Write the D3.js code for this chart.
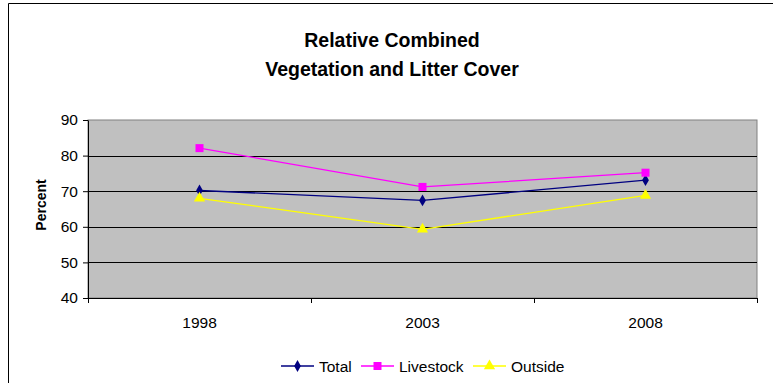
<!DOCTYPE html>
<html>
<head>
<meta charset="utf-8">
<script src="https://cdn.jsdelivr.net/npm/d3@7"></script>
<style>
  body { margin: 0; background: #fff; }
  text { font-family: Arial, "Liberation Sans", sans-serif; }
</style>
</head>
<body>
<div id="chart"></div>
<script>
(function(){
// data
var years = ["1998", "2003", "2008"];
var total = [70.2, 67.4, 73.1];
var livestock = [82.1, 71.2, 75.2];
var outside = [68.0, 59.3, 68.8];
var yTicks = [40, 50, 60, 70, 80, 90];

var series = [
  {name: "Total", values: total, color: "#000080", symbol: d3.symbolDiamond, size: 40},
  {name: "Livestock", values: livestock, color: "#FF00FF", symbol: d3.symbolSquare, size: 64},
  {name: "Outside", values: outside, color: "#FFFF00", symbol: d3.symbolTriangle, size: 55}
];

var W = 773, H = 383;
var margin = {top: 120, right: 16, bottom: 85, left: 88},
    width = W - margin.left - margin.right,
    height = H - margin.top - margin.bottom;

var svg = d3.select("#chart").append("svg")
    .attr("width", W)
    .attr("height", H);

// outer frame
svg.append("path")
    .attr("d", "M8.5," + H + "V3.5H" + W)
    .attr("fill", "none")
    .attr("stroke", "#000")
    .attr("stroke-width", 1);

// title
svg.append("text")
    .attr("x", 392).attr("y", 47)
    .attr("text-anchor", "middle")
    .style("font-size", "19.5px").style("font-weight", "bold")
    .text("Relative Combined");
svg.append("text")
    .attr("x", 392).attr("y", 76)
    .attr("text-anchor", "middle")
    .style("font-size", "19.5px").style("font-weight", "bold")
    .text("Vegetation and Litter Cover");

var g = svg.append("g")
    .attr("transform", "translate(" + margin.left + "," + margin.top + ")");

var x = d3.scaleBand().domain(years).range([0, width]);
var y = d3.scaleLinear().domain([40, 90]).range([height, 0]);

// plot area
g.append("rect")
    .attr("width", width).attr("height", height)
    .attr("fill", "#C0C0C0")
    .attr("stroke", "#808080");

// gridlines
g.selectAll(".grid")
    .data(yTicks.slice(1, -1))
  .enter().append("line")
    .attr("x1", 0).attr("x2", width)
    .attr("y1", function(d) { return Math.round(y(d)) + 0.5; })
    .attr("y2", function(d) { return Math.round(y(d)) + 0.5; })
    .attr("stroke", "#000");

// y axis
var yAxis = g.append("g")
    .call(d3.axisLeft(y).tickValues(yTicks).tickSize(5).tickSizeOuter(0));
yAxis.select(".domain").attr("stroke", "#000");
yAxis.selectAll("text").style("font-size", "15.5px").attr("fill", "#000").attr("x", -10);

// x axis
var xAxis = g.append("g")
    .attr("transform", "translate(0," + height + ")")
    .call(d3.axisBottom(x).tickSize(0).tickSizeOuter(0));
xAxis.select(".domain").attr("stroke", "#000");
xAxis.selectAll("text").style("font-size", "15.5px").attr("fill", "#000").attr("y", 19).attr("dy", "0.71em");
// category boundary ticks
g.selectAll(".xt")
    .data(years.concat(["end"]))
  .enter().append("line")
    .attr("x1", function(d, i) { return Math.round(i * x.step()) + 0.5; })
    .attr("x2", function(d, i) { return Math.round(i * x.step()) + 0.5; })
    .attr("y1", height).attr("y2", height + 5)
    .attr("stroke", "#000");

// y label
svg.append("text")
    .attr("transform", "translate(46,205) rotate(-90)")
    .attr("text-anchor", "middle")
    .style("font-size", "14px").style("font-weight", "bold")
    .text("Percent");

var line = d3.line()
    .x(function(d, i) { return x(years[i]) + x.bandwidth() / 2; })
    .y(function(d) { return y(d); });

series.forEach(function(s) {
  g.append("path")
      .datum(s.values)
      .attr("d", line)
      .attr("fill", "none")
      .attr("stroke", s.color)
      .attr("stroke-width", 1.3);
  g.selectAll(null)
      .data(s.values)
    .enter().append("path")
      .attr("transform", function(d, i) {
        return "translate(" + (x(years[i]) + x.bandwidth() / 2) + "," + y(d) + ")";
      })
      .attr("d", d3.symbol().type(s.symbol).size(s.size))
      .attr("fill", s.color);
});

// legend
var legendX = [281, 361, 473];
var legend = svg.append("g").attr("transform", "translate(0,366)");
series.forEach(function(s, i) {
  var lg = legend.append("g").attr("transform", "translate(" + legendX[i] + ",0)");
  lg.append("line")
      .attr("x1", 0).attr("x2", 33)
      .attr("stroke", s.color).attr("stroke-width", 1.3);
  lg.append("path")
      .attr("transform", "translate(16.5,0)")
      .attr("d", d3.symbol().type(s.symbol).size(s.size))
      .attr("fill", s.color);
  lg.append("text")
      .attr("x", 38).attr("y", 5.5)
      .style("font-size", "15.5px")
      .text(s.name);
});
})();
</script>
</body>
</html>
